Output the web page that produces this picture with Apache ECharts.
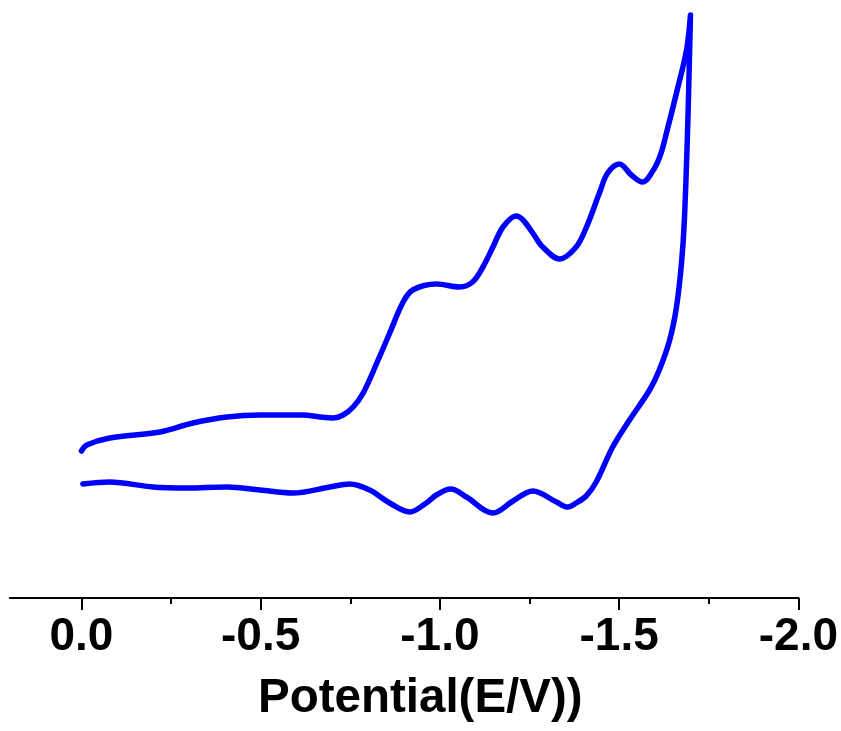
<!DOCTYPE html>
<html>
<head>
<meta charset="utf-8">
<title>Cyclic voltammogram</title>
<script src="https://cdn.jsdelivr.net/npm/echarts@6/dist/echarts.min.js"></script>
<style>
  html, body { margin: 0; padding: 0; background: #ffffff; }
  #chart { width: 841px; height: 731px; }
</style>
</head>
<body>
<div id="chart"></div>
<script>
// Cathodic (forward) scan: potential in V, current in arbitrary units
const forwardE = [0.000, -0.015, -0.079, -0.219, -0.311, -0.406, -0.498, -0.617, -0.665, -0.702,
  -0.730, -0.758, -0.786, -0.824, -0.860, -0.896, -0.924, -0.991, -1.055, -1.091,
  -1.120, -1.148, -1.176, -1.213, -1.232, -1.259, -1.287, -1.334,
  -1.380, -1.409, -1.445, -1.468, -1.501, -1.534, -1.565,
  -1.599, -1.617, -1.632, -1.660, -1.688, -1.699];
const forwardI = [14.7, 15.3, 16.0, 16.6, 17.5, 18.1, 18.3, 18.3, 18.1, 18.0,
  18.3, 19.1, 20.5, 23.5, 26.5, 29.5, 30.8, 31.4, 31.1, 31.6,
  33.1, 35.1, 37.1, 38.2, 37.8, 36.5, 35.1, 33.9,
  35.1, 37.1, 40.5, 42.5, 43.4, 42.3, 41.6,
  43.0, 44.5, 46.5, 50.5, 54.8, 58.3];

// Anodic (reverse) scan back to 0 V
const reverseE = [-1.696, -1.691, -1.682, -1.674, -1.660, -1.641, -1.612, -1.585, -1.529, -1.482,
  -1.436, -1.408, -1.380, -1.357, -1.325, -1.259, -1.204,
  -1.148, -1.074, -1.030, -0.990, -0.962, -0.916,
  -0.860, -0.804, -0.748, -0.693, -0.589, -0.498, -0.406, -0.294,
  -0.199, -0.079, -0.004];
const reverseI = [53.8, 46.8, 37.8, 33.5, 29.1, 25.8, 22.8, 20.8, 17.8, 15.1,
  11.6, 10.2, 9.5, 9.1, 9.6, 10.7, 9.7,
  8.5, 10.1, 10.9, 10.3, 9.5, 8.6,
  9.5, 10.8, 11.4, 11.1, 10.5, 10.8, 11.1, 11.0,
  11.1, 11.6, 11.4];

// Axis ticks and labels
const majorTicks = [0.0, -0.5, -1.0, -1.5, -2.0];
const tickLabels = ['0.0', '-0.5', '-1.0', '-1.5', '-2.0'];
const minorTicks = [-0.25, -0.75, -1.25, -1.75];
const axisTitle = 'Potential(E/V))';

const scanData = [];
forwardE.forEach((e, i) => scanData.push([e, forwardI[i]]));
reverseE.forEach((e, i) => scanData.push([e, reverseI[i]]));

const FONT = '"Liberation Sans", Arial, Helvetica, sans-serif';

const chart = echarts.init(document.getElementById('chart'));
chart.setOption({
  backgroundColor: '#ffffff',
  animation: false,
  grid: { left: 9.75, right: 42, top: 8, bottom: 133, containLabel: false },
  title: {
    text: axisTitle,
    left: 258,
    top: 675,
    padding: 0,
    textStyle: { fontFamily: FONT, fontWeight: 'bold', fontSize: 47.5, color: '#000000' }
  },
  xAxis: [
    {
      type: 'value',
      position: 'bottom',
      min: -2.0,
      max: 0.2,
      inverse: true,
      axisLine: { show: true, onZero: false, lineStyle: { color: '#000000', width: 2 } },
      axisTick: { show: true, inside: false, length: 12, customValues: majorTicks,
        lineStyle: { color: '#000000', width: 2 } },
      axisLabel: {
        show: true,
        customValues: majorTicks,
        margin: 16,
        formatter: v => tickLabels[majorTicks.findIndex(t => Math.abs(t - v) < 1e-6)],
        fontFamily: FONT, fontWeight: 'bold', fontSize: 46, color: '#000000'
      },
      splitLine: { show: false }
    },
    {
      type: 'value',
      position: 'bottom',
      min: -2.0,
      max: 0.2,
      inverse: true,
      axisLine: { show: false },
      axisTick: { show: true, inside: false, length: 6, customValues: minorTicks,
        lineStyle: { color: '#000000', width: 2 } },
      axisLabel: { show: false },
      splitLine: { show: false }
    }
  ],
  yAxis: { type: 'value', min: 0, max: 59, show: false },
  series: [{
    type: 'line',
    xAxisIndex: 0,
    data: scanData,
    showSymbol: false,
    smooth: 0.35,
    lineStyle: { color: '#0000ff', width: 5.5, cap: 'round', join: 'round' }
  }]
});
</script>
</body>
</html>
